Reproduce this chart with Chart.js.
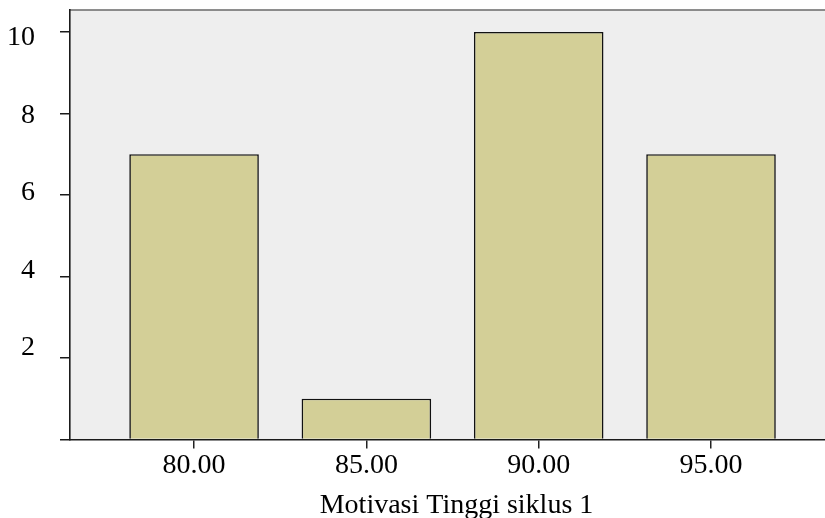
<!DOCTYPE html>
<html>
<head>
<meta charset="utf-8">
<script src="https://cdn.jsdelivr.net/npm/chart.js@4/dist/chart.umd.min.js"></script>
<style>
  html, body { margin: 0; padding: 0; background: #fff; overflow: hidden; }
  #grafico { display: block; }
</style>
</head>
<body>
<canvas id="grafico" width="844" height="530" style="width:844px;height:530px"></canvas>
<script>
// datos
var categorias = [80, 85, 90, 95];
var frecuencias = [7, 1, 10, 7];
var ticksY = [0, 2, 4, 6, 8, 10];
var etiquetasY = [2, 4, 6, 8, 10];
var tituloX = 'Motivasi Tinggi siklus 1';

var fuente = { family: "'Liberation Serif', 'Times New Roman', serif", size: 28 };

// fondo gris del area y linea superior
var fondoArea = {
    id: 'fondoArea',
    beforeDraw: function (chart) {
        var a = chart.chartArea;
        var ctx = chart.ctx;
        ctx.save();
        ctx.fillStyle = '#eeeeee';
        ctx.fillRect(a.left, a.top, a.right - a.left, a.bottom - a.top);
        ctx.strokeStyle = '#6a6a6a';
        ctx.lineWidth = 1.5;
        ctx.beginPath();
        ctx.moveTo(a.left, a.top);
        ctx.lineTo(a.right, a.top);
        ctx.lineTo(a.right, a.bottom);
        ctx.stroke();
        ctx.restore();
    }
};

function sinRelleno(s) {
    s.paddingTop = 0;
    s.paddingBottom = 0;
    s.paddingLeft = 0;
    s.paddingRight = 0;
}

var ctx = document.getElementById('grafico').getContext('2d');
var myChart = new Chart(ctx, {
    type: 'bar',
    data: {
        datasets: [{
            data: categorias.map(function (c, i) { return { x: c, y: frecuencias[i] }; }),
            backgroundColor: '#d3cf97',
            borderColor: '#111111',
            borderWidth: 1.6,
            barPercentage: 0.752,
            categoryPercentage: 1
        }]
    },
    plugins: [fondoArea],
    options: {
        responsive: false,
        devicePixelRatio: 1,
        animation: false,
        layout: { padding: { top: 10, right: 1, left: 0, bottom: 0 } },
        plugins: {
            legend: { display: false },
            tooltip: { enabled: false }
        },
        scales: {
            x: {
                type: 'linear',
                offset: false,
                min: 76.40,
                max: 98.83,
                afterBuildTicks: function (s) {
                    s.ticks = categorias.map(function (v) { return { value: v }; });
                },
                afterFit: function (s) { s.height = 90.5; sinRelleno(s); },
                ticks: {
                    autoSkip: false,
                    maxRotation: 0,
                    padding: 0,
                    color: '#000',
                    font: fuente,
                    callback: function (v) { return Number(v).toFixed(2); }
                },
                grid: {
                    offset: false,
                    drawOnChartArea: false,
                    drawTicks: true,
                    tickLength: 9,
                    color: '#222',
                    lineWidth: 1.5
                },
                border: { display: true, color: '#1a1a1a', width: 1.6 },
                title: {
                    display: true,
                    text: tituloX,
                    color: '#000',
                    font: fuente,
                    padding: { top: 0, bottom: 8 }
                }
            },
            y: {
                type: 'linear',
                position: 'left',
                weight: 0,
                min: 0,
                max: 10.54,
                afterBuildTicks: function (s) {
                    s.ticks = ticksY.map(function (v) { return { value: v }; });
                },
                afterFit: function (s) { s.width = 10; sinRelleno(s); },
                ticks: { display: false },
                grid: {
                    drawOnChartArea: false,
                    drawTicks: true,
                    tickLength: 10,
                    color: '#1a1a1a',
                    lineWidth: 1.5
                },
                border: { display: true, color: '#1a1a1a', width: 1.6 }
            },
            // eje solo para las etiquetas (SPSS las coloca algo desplazadas)
            yEtiquetas: {
                type: 'linear',
                position: 'left',
                weight: 1,
                min: -0.358,
                max: 10.717,
                afterBuildTicks: function (s) {
                    s.ticks = etiquetasY.map(function (v) { return { value: v }; });
                },
                afterFit: function (s) { s.width = 60; sinRelleno(s); },
                ticks: {
                    padding: 25,
                    color: '#000',
                    font: fuente
                },
                grid: { display: false, drawTicks: false },
                border: { display: false }
            }
        }
    }
});
</script>
</body>
</html>
